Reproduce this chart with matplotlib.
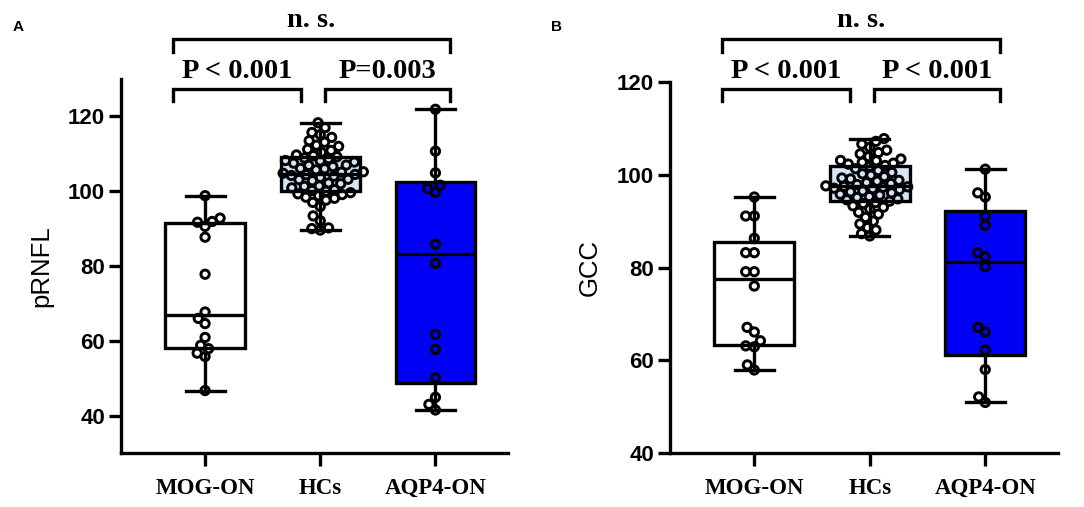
import numpy as np
import matplotlib
matplotlib.use("Agg")
import matplotlib.pyplot as plt
from matplotlib.transforms import blended_transform_factory

# ---- data ----
groups = ["MOG-ON", "HCs", "AQP4-ON"]

mog_prnfl = [98.8, 92.8, 91.9, 91.7, 90.6, 87.7, 77.8, 67.7, 66.0, 64.6,
             60.9, 58.8, 57.9, 56.7, 55.8, 46.7]
hc_prnfl = [89.6, 90.2, 90.0, 92.1, 93.4, 95.9, 97.0, 97.6, 98.1, 98.4,
            98.8, 99.1, 99.3, 99.6, 100.0, 100.2, 100.4, 100.9, 101.3, 101.4,
            102.0, 102.2, 102.8, 103.1, 103.2, 103.7, 104.0, 104.2, 104.4, 104.5,
            104.8, 105.1, 105.2, 105.7, 106.0, 106.1, 106.6, 106.9, 107.0, 107.5,
            107.8, 108.1, 108.2, 108.7, 108.9, 109.2, 109.5, 109.7, 110.4, 110.9,
            111.2, 112.0, 112.3, 113.1, 113.5, 114.4, 115.1, 115.7, 117.0, 118.3]
aqp4_prnfl = [121.9, 110.7, 104.9, 101.6, 100.7, 99.7, 85.8, 80.7, 61.7, 57.7,
              50.1, 44.9, 43.0, 41.5]

mog_gcc = [95.2, 91.1, 91.1, 86.3, 83.2, 83.2, 79.1, 79.1, 76.0, 67.1,
           66.1, 64.2, 63.1, 62.9, 59.0, 57.9]
hc_gcc = [86.8, 87.3, 88.1, 88.6, 89.4, 90.0, 90.8, 91.5, 91.9, 92.6,
          93.0, 93.3, 93.8, 94.0, 94.3, 94.6, 94.8, 95.1, 95.3, 95.6,
          95.8, 96.1, 96.3, 96.5, 96.8, 97.0, 97.1, 97.3, 97.4, 97.5,
          97.6, 97.9, 98.1, 98.3, 98.6, 98.8, 99.1, 99.3, 99.6, 99.9,
          100.2, 100.5, 100.9, 101.3, 101.8, 102.0, 102.3, 102.5, 102.7, 103.0,
          103.1, 103.4, 103.9, 104.5, 104.8, 105.3, 105.9, 106.6, 107.2, 107.8]
aqp4_gcc = [101.2, 96.1, 95.2, 91.1, 89.1, 83.2, 82.3, 80.2, 67.1, 66.1,
            62.2, 58.0, 52.1, 50.9]

pvals_a = ["P < 0.001", "P=0.003", "n. s."]
pvals_b = ["P < 0.001", "P < 0.001", "n. s."]

box_colors = ["white", "#d5e5f6", "#0000f5"]
SANS = "Liberation Sans"
SERIF = "Liberation Serif"
LW = 2.4


def swarm_x(ax, pos, vals, diam_px):
    """Beeswarm-style x positions so circles do not overlap."""
    pts = ax.transData.transform(np.column_stack([np.full(len(vals), pos), vals]))
    ys = pts[:, 1]
    offs = np.zeros(len(vals))
    placed = []
    for i in np.argsort(ys):
        y = ys[i]
        near = [(xo, yo) for xo, yo in placed if abs(yo - y) < diam_px]
        cands = [0.0]
        for xo, yo in near:
            dx = np.sqrt(diam_px ** 2 - (yo - y) ** 2)
            cands += [xo + dx, xo - dx]
        cands.sort(key=lambda c: (abs(c), c))
        for c in cands:
            if all((c - xo) ** 2 + (y - yo) ** 2 >= diam_px ** 2 - 1e-6 for xo, yo in near):
                offs[i] = c
                break
        placed.append((offs[i], y))
    unit = ax.transData.transform([(1, 0)])[0][0] - ax.transData.transform([(0, 0)])[0][0]
    return pos + offs / unit


def draw_panel(fig, rect, data, ylim, yticks, ylabel, letter, letter_x, pvals):
    ax = fig.add_axes(rect)
    ax.set_xlim(-0.73, 2.63)
    ax.set_ylim(*ylim)

    stats = []
    for vals in data:
        v = np.asarray(vals)
        q1, med, q3 = np.percentile(v, [25, 50, 75], method="weibull")
        stats.append(dict(med=med, q1=q1, q3=q3, whislo=v.min(), whishi=v.max(), fliers=[]))
    bp = ax.bxp(stats, positions=[0, 1, 2], widths=0.69, capwidths=0.34,
                patch_artist=True, showfliers=False,
                boxprops=dict(linewidth=LW, edgecolor="black"),
                medianprops=dict(linewidth=LW, color="black"),
                whiskerprops=dict(linewidth=LW, color="black"),
                capprops=dict(linewidth=LW, color="black"))
    for patch, c in zip(bp["boxes"], box_colors):
        patch.set_facecolor(c)

    for i, vals in enumerate(data):
        xs = swarm_x(ax, i, vals, 8.6)
        ax.scatter(xs, vals, s=36, facecolors="none", edgecolors="black",
                   linewidths=2.1, zorder=4)

    for s in ["top", "right"]:
        ax.spines[s].set_visible(False)
    for s in ["left", "bottom"]:
        ax.spines[s].set_linewidth(LW)

    ax.set_yticks(yticks)
    ax.set_xticks([0, 1, 2])
    ax.set_xticklabels(groups, fontfamily=SERIF, fontweight="bold", fontsize=16.5)
    ax.tick_params(axis="y", length=8.5, width=LW, pad=3, labelsize=16)
    ax.tick_params(axis="x", length=9, width=LW, pad=9)
    for t in ax.get_yticklabels():
        t.set_fontfamily(SANS)
        t.set_fontweight("bold")
    ax.set_ylabel(ylabel, fontfamily=SANS, fontsize=18.5)
    ax.yaxis.set_label_coords(-0.175, 0.5)

    # significance brackets (x in data, y in figure fraction)
    tr = blended_transform_factory(ax.transData, fig.transFigure)
    brackets = [(-0.28, 0.83, 0.824, 0.80), (1.04, 2.13, 0.824, 0.80),
                (-0.28, 2.13, 0.923, 0.897)]
    text_y = [0.846, 0.846, 0.946]
    for (x0, x1, yt, yb), lab, ty in zip(brackets, pvals, text_y):
        ax.plot([x0, x0, x1, x1], [yb, yt, yt, yb], color="black", lw=LW,
                transform=tr, clip_on=False, solid_joinstyle="miter")
        ax.text((x0 + x1) / 2, ty, lab, transform=tr, ha="center", va="baseline",
                fontfamily=SERIF, fontweight="bold", fontsize=20.5)

    fig.text(letter_x, 0.946, letter, fontfamily=SANS, fontweight="bold",
             fontsize=11, ha="center", va="center")
    return ax


fig = plt.figure(figsize=(10.84, 5.07), dpi=100)
draw_panel(fig, [121 / 1084, 54 / 507, 387 / 1084, 374 / 507],
           [mog_prnfl, hc_prnfl, aqp4_prnfl], (30, 130), [40, 60, 80, 100, 120],
           "pRNFL", "A", 0.017, pvals_a)
draw_panel(fig, [670 / 1084, 54 / 507, 388 / 1084, 371 / 507],
           [mog_gcc, hc_gcc, aqp4_gcc], (40, 120), [40, 60, 80, 100, 120],
           "GCC", "B", 0.513, pvals_b)
fig.savefig("out.png", dpi=100)
